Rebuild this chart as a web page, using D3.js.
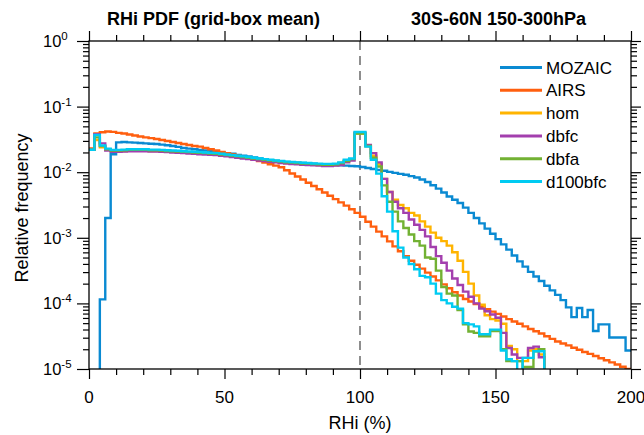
<!DOCTYPE html>
<html>
<head>
<meta charset="utf-8">
<script src="https://cdn.jsdelivr.net/npm/d3@7"></script>
<style>
body { margin: 0; background: #fff; }
svg text { font-family: "Liberation Sans", Arial, Helvetica, sans-serif; fill: #000; }
</style>
</head>
<body>
<div class="container"></div>
<script>
// RHi histogram bins, 2 % wide, starting at 0
var binWidth = 2;

var mozaic = [
  0, 0, 1.15e-4, 0.002, 0.0188, 0.0285, 0.0288, 0.0285, 0.0282, 0.0279,
  0.0275, 0.0272, 0.0269, 0.0263, 0.0257, 0.0251, 0.0243, 0.0234, 0.0229, 0.0224,
  0.0219, 0.0214, 0.0209, 0.0204, 0.02, 0.0195, 0.0191, 0.0184, 0.0178, 0.0174,
  0.0168, 0.0162, 0.0158, 0.0153, 0.0148, 0.0145, 0.0143, 0.0141, 0.014, 0.0138,
  0.0136, 0.0135, 0.0133, 0.0132, 0.013, 0.0129, 0.0127, 0.0126, 0.0124, 0.0123,
  0.012, 0.0116, 0.0112, 0.0108, 0.0105, 0.0101, 0.00977, 0.00944, 0.00912, 0.00871,
  0.00832, 0.00776, 0.00708, 0.00631, 0.00562, 0.0049, 0.00427, 0.0038, 0.00339, 0.00288,
  0.0024, 0.002, 0.00166, 0.00138, 0.00115, 9.55e-4, 7.94e-4, 6.61e-4, 5.37e-4, 4.37e-4,
  3.63e-4, 3.02e-4, 2.57e-4, 2.19e-4, 1.86e-4, 1.58e-4, 1.35e-4, 1.12e-4, 8.71e-5, 6.17e-5,
  8.51e-5, 6.17e-5, 7.94e-5, 3.8e-5, 4.79e-5, 4.79e-5, 3.02e-5, 3.02e-5, 3.02e-5, 1.91e-5
];

var airs = [
  0.023, 0.039, 0.0407, 0.0417, 0.0412, 0.0398, 0.0389, 0.0376, 0.0363, 0.0351,
  0.0339, 0.0331, 0.032, 0.0309, 0.0299, 0.0288, 0.0279, 0.0269, 0.026, 0.0251,
  0.0245, 0.0234, 0.0224, 0.0214, 0.0204, 0.0195, 0.0186, 0.0178, 0.017, 0.0162,
  0.0155, 0.0148, 0.014, 0.0132, 0.0126, 0.0119, 0.0107, 0.00955, 0.00861, 0.00776,
  0.00692, 0.00617, 0.0055, 0.0049, 0.00437, 0.00389, 0.00347, 0.00309, 0.00272, 0.0024,
  0.00209, 0.00176, 0.00148, 0.00124, 0.00105, 8.81e-4, 7.41e-4, 6.24e-4, 5.25e-4, 4.47e-4,
  3.89e-4, 3.39e-4, 2.95e-4, 2.57e-4, 2.24e-4, 1.95e-4, 1.7e-4, 1.48e-4, 1.32e-4, 1.17e-4,
  1.07e-4, 9.77e-5, 8.91e-5, 8.13e-5, 7.5e-5, 6.92e-5, 6.31e-5, 5.75e-5, 5.31e-5, 4.9e-5,
  4.47e-5, 4.07e-5, 3.76e-5, 3.47e-5, 3.16e-5, 2.88e-5, 2.63e-5, 2.45e-5, 2.29e-5, 2.11e-5,
  1.97e-5, 1.82e-5, 1.7e-5, 1.58e-5, 1.46e-5, 1.36e-5, 1.26e-5, 1.17e-5, 1.08e-5, 1.0e-5
];

var hom = [
  0.022, 0.031, 0.024, 0.0219, 0.0209, 0.0209, 0.0211, 0.0214, 0.0214, 0.0214,
  0.0214, 0.0211, 0.0211, 0.0209, 0.0206, 0.0204, 0.0202, 0.02, 0.0197, 0.0195,
  0.0193, 0.0191, 0.0188, 0.0186, 0.0182, 0.0178, 0.0174, 0.017, 0.0166, 0.0162,
  0.0158, 0.0155, 0.0151, 0.0148, 0.0145, 0.0141, 0.0138, 0.0136, 0.0135, 0.0133,
  0.0132, 0.013, 0.0129, 0.0127, 0.0127, 0.0129, 0.0135, 0.0148, 0.0158, 0.039,
  0.039, 0.0251, 0.0178, 0.0132, 0.0079, 0.005, 0.0038, 0.00316, 0.00282, 0.0024,
  0.00219, 0.00178, 0.00148, 0.0012, 0.001, 8.91e-4, 7.59e-4, 6.03e-4, 4.47e-4, 3.02e-4,
  2.0e-4, 1.32e-4, 9.55e-5, 6.61e-5, 5.75e-5, 5.5e-5, 4.9e-5, 2.24e-5, 2.0e-5, 1.32e-5,
  1.32e-5, 1.91e-5, 2.0e-5, 1.66e-5, 0
];

var dbfc = [
  0.022, 0.038, 0.0275, 0.0214, 0.0204, 0.0204, 0.0206, 0.0209, 0.0209, 0.0209,
  0.0209, 0.0206, 0.0206, 0.0204, 0.0202, 0.02, 0.0198, 0.0195, 0.0193, 0.0191,
  0.0188, 0.0186, 0.0184, 0.0182, 0.0178, 0.0174, 0.017, 0.0166, 0.0162, 0.0159,
  0.0155, 0.0151, 0.0148, 0.0144, 0.0141, 0.0138, 0.0135, 0.0133, 0.0132, 0.013,
  0.0129, 0.0127, 0.0126, 0.0124, 0.0124, 0.0126, 0.0129, 0.0141, 0.0151, 0.04,
  0.04, 0.026, 0.0195, 0.0141, 0.0079, 0.005, 0.00355, 0.00282, 0.0024, 0.0019,
  0.00158, 0.00132, 0.00105, 7.24e-4, 5.25e-4, 4.17e-4, 3.16e-4, 2.4e-4, 1.91e-4, 1.51e-4,
  1.26e-4, 1.0e-4, 8.32e-5, 7.59e-5, 6.76e-5, 6.03e-5, 3.55e-5, 2.09e-5, 1.66e-5, 1.48e-5,
  1.48e-5, 2.09e-5, 2.19e-5, 1.51e-5, 0
];

var dbfa = [
  0.022, 0.034, 0.025, 0.0224, 0.0214, 0.0214, 0.0216, 0.0219, 0.0219, 0.0219,
  0.0219, 0.0216, 0.0216, 0.0214, 0.0211, 0.0209, 0.0207, 0.0204, 0.0202, 0.02,
  0.0197, 0.0195, 0.0193, 0.0191, 0.0186, 0.0182, 0.0178, 0.0174, 0.017, 0.0166,
  0.0162, 0.0158, 0.0155, 0.0151, 0.0148, 0.0145, 0.0141, 0.014, 0.0138, 0.0136,
  0.0135, 0.0133, 0.0132, 0.013, 0.013, 0.0132, 0.0138, 0.0148, 0.0158, 0.039,
  0.039, 0.0251, 0.0166, 0.0122, 0.0063, 0.00355, 0.00251, 0.00178, 0.00141, 0.00112,
  8.91e-4, 7.59e-4, 5.01e-4, 4.79e-4, 3.16e-4, 1.78e-4, 1.41e-4, 1.32e-4, 7.94e-5, 4.79e-5,
  3.72e-5, 3.55e-5, 3.16e-5, 3.16e-5, 3.8e-5, 3.8e-5, 2.0e-5, 1.32e-5, 1.32e-5, 1.32e-5,
  1.07e-5, 1.07e-5, 1.86e-5, 2.0e-5, 0
];

var d100bfc = [
  0.022, 0.037, 0.0255, 0.0229, 0.0219, 0.0219, 0.0221, 0.0224, 0.0224, 0.0224,
  0.0224, 0.0221, 0.0221, 0.0219, 0.0216, 0.0214, 0.0212, 0.0209, 0.0207, 0.0205,
  0.0202, 0.02, 0.0197, 0.0195, 0.0191, 0.0186, 0.0182, 0.0178, 0.0174, 0.017,
  0.0166, 0.0162, 0.0158, 0.0155, 0.0151, 0.0148, 0.0145, 0.0143, 0.0141, 0.0139,
  0.0138, 0.0136, 0.0135, 0.0134, 0.0134, 0.0135, 0.0141, 0.0155, 0.0162, 0.041,
  0.041, 0.0245, 0.0155, 0.0095, 0.0043, 0.00251, 0.00126, 7.08e-4, 5.01e-4, 3.98e-4,
  3.31e-4, 2.63e-4, 2.51e-4, 2.0e-4, 1.41e-4, 1.12e-4, 1.0e-4, 8.91e-5, 8.32e-5, 5.01e-5,
  4.79e-5, 4.47e-5, 3.39e-5, 3.39e-5, 3.98e-5, 3.98e-5, 1.91e-5, 1.41e-5, 1.32e-5, 0,
  1.48e-5, 1.48e-5, 1.86e-5, 1.86e-5, 0
];

var seriesNames = ['MOZAIC', 'AIRS', 'hom', 'dbfc', 'dbfa', 'd100bfc'];
var seriesValues = [mozaic, airs, hom, dbfc, dbfa, d100bfc];
var seriesColors = ['#0a8ad2', '#ff5f0f', '#ffb400', '#a33fae', '#72b133', '#00cbf2'];

var xTicks = [0, 50, 100, 150, 200];
var xMinorTicks = [10, 20, 30, 40, 60, 70, 80, 90, 110, 120, 130, 140, 160, 170, 180, 190];
var yExponents = [0, -1, -2, -3, -4, -5];

const WIDTH = 644;
const HEIGHT = 435;
const LEFT = 89, RIGHT = 631, TOP = 41, BOTTOM = 369;

var svg = d3.select('.container').append('svg')
  .attr('width', WIDTH)
  .attr('height', HEIGHT);

var xScale = d3.scaleLinear().domain([0, 200]).range([LEFT, RIGHT]);
var yScale = d3.scaleLog().domain([1e-5, 1]).range([BOTTOM, TOP]);

var yMajor = yExponents.map(function(e){ return Math.pow(10, e); });
var yMinor = [];
yExponents.slice(1).forEach(function(e){
  for (var m = 2; m <= 9; m++) yMinor.push(m * Math.pow(10, e));
});

var styleAxis = function(g){
  g.selectAll('.domain').remove();
  g.selectAll('line').attr('stroke', '#000').attr('stroke-width', 1.2);
  g.selectAll('text').remove();
};

// ticks on all four sides
svg.append('g').attr('transform', 'translate(0,' + BOTTOM + ')')
  .call(d3.axisBottom(xScale).tickValues(xTicks).tickSize(10)).call(styleAxis);
svg.append('g').attr('transform', 'translate(0,' + BOTTOM + ')')
  .call(d3.axisBottom(xScale).tickValues(xMinorTicks).tickSize(6)).call(styleAxis);
svg.append('g').attr('transform', 'translate(0,' + TOP + ')')
  .call(d3.axisTop(xScale).tickValues(xTicks).tickSize(10)).call(styleAxis);
svg.append('g').attr('transform', 'translate(0,' + TOP + ')')
  .call(d3.axisTop(xScale).tickValues(xMinorTicks).tickSize(6)).call(styleAxis);
svg.append('g').attr('transform', 'translate(' + LEFT + ',0)')
  .call(d3.axisLeft(yScale).tickValues(yMajor).tickSize(12)).call(styleAxis);
svg.append('g').attr('transform', 'translate(' + LEFT + ',0)')
  .call(d3.axisLeft(yScale).tickValues(yMinor).tickSize(6)).call(styleAxis);
svg.append('g').attr('transform', 'translate(' + RIGHT + ',0)')
  .call(d3.axisRight(yScale).tickValues(yMajor).tickSize(10)).call(styleAxis);
svg.append('g').attr('transform', 'translate(' + RIGHT + ',0)')
  .call(d3.axisRight(yScale).tickValues(yMinor).tickSize(6)).call(styleAxis);

// x tick labels
svg.append('g').selectAll('text').data(xTicks).enter().append('text')
  .attr('x', function(d){ return xScale(d); })
  .attr('y', BOTTOM + 34)
  .attr('text-anchor', 'middle')
  .style('font-size', '17px')
  .text(function(d){ return d; });

// y tick labels 10^n
var yLab = svg.append('g').selectAll('text').data(yExponents).enter().append('text')
  .attr('x', 43)
  .attr('y', function(d){ return yScale(Math.pow(10, d)) + 6; })
  .style('font-size', '16.5px');
yLab.append('tspan').text('10');
yLab.append('tspan').attr('dy', -7).style('font-size', '11.5px')
  .text(function(d){ return d; });

// dashed line at RHi = 100
svg.append('line')
  .attr('x1', xScale(100)).attr('x2', xScale(100))
  .attr('y1', TOP).attr('y2', BOTTOM)
  .attr('stroke', '#444').attr('stroke-width', 1.2)
  .attr('stroke-dasharray', '9,6');

svg.append('clipPath').attr('id', 'plotClip')
  .append('rect')
  .attr('x', LEFT).attr('y', TOP)
  .attr('width', RIGHT - LEFT).attr('height', BOTTOM - TOP);

var yOf = function(v){ return v > 0 ? yScale(v) : BOTTOM + 20; };

var stepLine = d3.line()
  .x(function(d){ return xScale(d.x); })
  .y(function(d){ return yOf(d.v); })
  .curve(d3.curveStepAfter);

var lines = svg.append('g').attr('clip-path', 'url(#plotClip)');
seriesValues.forEach(function(vals, k){
  var pts = vals.map(function(v, i){ return {x: i * binWidth, v: v}; });
  pts.push({x: vals.length * binWidth, v: vals[vals.length - 1]});
  lines.append('path')
    .attr('d', stepLine(pts))
    .attr('fill', 'none')
    .attr('stroke', seriesColors[k])
    .attr('stroke-width', 2.4)
    .attr('stroke-linejoin', 'miter');
});

// axis frame
svg.append('rect')
  .attr('x', LEFT).attr('y', TOP)
  .attr('width', RIGHT - LEFT).attr('height', BOTTOM - TOP)
  .attr('fill', 'none').attr('stroke', '#000').attr('stroke-width', 1.3);

// legend
var legend = svg.append('g').selectAll('g').data(seriesNames).enter().append('g')
  .attr('transform', function(d, i){ return 'translate(500,' + (67.5 + i * 22.8) + ')'; });
legend.append('line')
  .attr('x1', 0).attr('x2', 42)
  .attr('stroke', function(d, i){ return seriesColors[i]; })
  .attr('stroke-width', 3);
legend.append('text')
  .attr('x', 46).attr('y', 6)
  .style('font-size', '17px')
  .text(function(d){ return d; });

// titles and axis labels
svg.append('text').attr('x', 107).attr('y', 25)
  .style('font-size', '18px').style('font-weight', 'bold')
  .text('RHi PDF (grid-box mean)');
svg.append('text').attr('x', 411).attr('y', 25)
  .style('font-size', '18px').style('font-weight', 'bold')
  .text('30S-60N 150-300hPa');
svg.append('text')
  .attr('x', xScale(100)).attr('y', 429)
  .attr('text-anchor', 'middle')
  .style('font-size', '18px')
  .text('RHi (%)');
svg.append('text')
  .attr('transform', 'translate(28,208) rotate(-90)')
  .attr('text-anchor', 'middle')
  .style('font-size', '18px')
  .text('Relative frequency');
</script>
</body>
</html>
